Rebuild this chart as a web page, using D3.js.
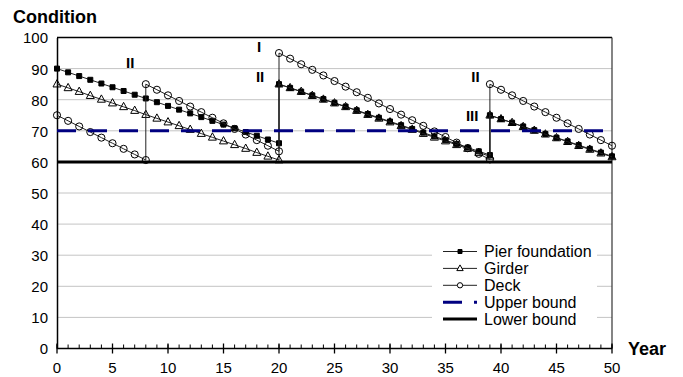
<!DOCTYPE html>
<html>
<head>
<meta charset="utf-8">
<script src="https://cdn.jsdelivr.net/npm/d3@7/dist/d3.min.js"></script>
<style>
  body { margin: 0; background: #fff; }
  text { font-family: "Liberation Sans", Arial, sans-serif; fill: #000; }
</style>
</head>
<body>
<svg id="chart" width="683" height="377"></svg>
<script>
// condition values per segment, a repair starts a new segment in the same year
var pierStarts = [0, 20, 39];
var pierValues = [
  [90, 88.8, 87.6, 86.4, 85.2, 84, 82.8, 81.6, 80.4, 79.2, 78, 76.8, 75.6, 74.4, 73.2, 72, 70.8, 69.6, 68.4, 67.2, 66],
  [85, 83.8, 82.6, 81.4, 80.2, 79, 77.8, 76.6, 75.4, 74.2, 73, 71.8, 70.6, 69.4, 68.2, 67, 65.8, 64.6, 63.4, 62.2],
  [75, 73.8, 72.6, 71.4, 70.2, 69, 67.8, 66.6, 65.4, 64.2, 63, 61.8]
];
var girderStarts = [0, 20, 39];
var girderValues = [
  [85, 83.8, 82.6, 81.3, 80.1, 78.9, 77.7, 76.5, 75.2, 74, 72.8, 71.6, 70.4, 69.1, 67.9, 66.7, 65.5, 64.3, 63, 61.8, 60.6],
  [85, 83.8, 82.6, 81.3, 80.1, 78.9, 77.7, 76.5, 75.2, 74, 72.8, 71.6, 70.4, 69.1, 67.9, 66.7, 65.5, 64.3, 63, 61.8],
  [75, 73.8, 72.6, 71.3, 70.1, 68.9, 67.7, 66.5, 65.2, 64, 62.8, 61.6]
];
var deckStarts = [0, 8, 20, 39];
var deckValues = [
  [75, 73.2, 71.4, 69.6, 67.8, 66, 64.2, 62.4, 60.6],
  [85, 83.2, 81.4, 79.6, 77.8, 76, 74.2, 72.4, 70.6, 68.8, 67, 65.2, 63.4],
  [95, 93.2, 91.4, 89.6, 87.8, 86, 84.2, 82.4, 80.6, 78.8, 77, 75.2, 73.4, 71.6, 69.8, 68, 66.2, 64.4, 62.6, 60.8],
  [85, 83.2, 81.4, 79.6, 77.8, 76, 74.2, 72.4, 70.6, 68.8, 67, 65.2]
];
var boundYears = [0, 50];
var upperValues = [70, 70];
var lowerValues = [60, 60];

var yTicks = [0, 10, 20, 30, 40, 50, 60, 70, 80, 90, 100];
var xTicks = [0, 5, 10, 15, 20, 25, 30, 35, 40, 45, 50];
var legendNames = ["Pier foundation", "Girder", "Deck", "Upper bound", "Lower bound"];

// intervention labels (year, condition)
var notes = [
  { label: "II", year: 6.6, value: 91.8 },
  { label: "I", year: 18.2, value: 97 },
  { label: "II", year: 18.3, value: 87.3 },
  { label: "II", year: 37.7, value: 87.3 },
  { label: "III", year: 37.4, value: 74.8 }
];

function toPoints(starts, values) {
  var pts = [];
  values.forEach(function(seg, s) {
    seg.forEach(function(v, i) { pts.push({ year: starts[s] + i, value: v }); });
  });
  return pts;
}

var svg = d3.select("#chart");
var x = d3.scaleLinear().domain([0, 50]).range([57, 612]);
var y = d3.scaleLinear().domain([0, 100]).range([348.5, 37.5]);

// gridlines
svg.append("g").selectAll("line")
  .data(yTicks.filter(function(d) { return d > 0 && d < 100; }))
  .enter().append("line")
  .attr("x1", x(0)).attr("x2", x(50))
  .attr("y1", function(d) { return y(d); }).attr("y2", function(d) { return y(d); })
  .attr("stroke", "#c4c4c4").attr("stroke-width", 1);

// plot frame top and right
svg.append("line").attr("x1", x(0)).attr("x2", x(50)).attr("y1", y(100)).attr("y2", y(100))
  .attr("stroke", "#000").attr("stroke-width", 1.5);
svg.append("line").attr("x1", x(50)).attr("x2", x(50)).attr("y1", y(100)).attr("y2", y(0))
  .attr("stroke", "#333").attr("stroke-width", 1.2);

// y axis
var yAxis = d3.axisLeft(y).tickValues(yTicks).tickSize(0).tickPadding(9);
var gy = svg.append("g").attr("transform", "translate(" + x(0) + ",0)").call(yAxis);
gy.select(".domain").attr("stroke", "#000").attr("stroke-width", 1.5);
gy.selectAll("text").style("font-size", "15px").attr("dy", "0.36em");

// x axis: minor ticks inward, major ticks across
var gx = svg.append("g").attr("transform", "translate(0," + y(0) + ")");
gx.selectAll("line.minor").data(d3.range(0, 51)).enter().append("line")
  .attr("x1", function(d) { return x(d); }).attr("x2", function(d) { return x(d); })
  .attr("y1", -4).attr("y2", 0).attr("stroke", "#000");
gx.selectAll("line.major").data(xTicks).enter().append("line")
  .attr("x1", function(d) { return x(d); }).attr("x2", function(d) { return x(d); })
  .attr("y1", -5).attr("y2", 5).attr("stroke", "#000").attr("stroke-width", 1.3);
gx.append("line").attr("x1", x(0)).attr("x2", x(50)).attr("y1", 0).attr("y2", 0)
  .attr("stroke", "#000").attr("stroke-width", 1.5);
gx.selectAll("text").data(xTicks).enter().append("text")
  .attr("x", function(d) { return x(d); }).attr("y", 24)
  .attr("text-anchor", "middle").style("font-size", "15px")
  .text(function(d) { return d; });

var line = d3.line().x(function(d) { return x(d.year); }).y(function(d) { return y(d.value); });

function drawSeries(pts, marker) {
  var g = svg.append("g");
  g.append("path").datum(pts).attr("d", line)
    .attr("fill", "none").attr("stroke", "#222").attr("stroke-width", 1);
  g.selectAll("path.m").data(pts).enter().append("path")
    .attr("transform", function(d) { return "translate(" + x(d.year) + "," + y(d.value) + ")"; })
    .attr("d", marker.d).attr("fill", marker.fill).attr("stroke", "#000").attr("stroke-width", 1);
}

var squareMark = { d: "M-2.5,-2.5h5v5h-5z", fill: "#000" };
var triMark = { d: "M0,-4.5L4,2.8L-4,2.8Z", fill: "none" };
var circMark = { d: d3.symbol().type(d3.symbolCircle).size(40)(), fill: "none" };

drawSeries(toPoints(pierStarts, pierValues), squareMark);
drawSeries(toPoints(girderStarts, girderValues), triMark);
drawSeries(toPoints(deckStarts, deckValues), circMark);

// bounds
var boundLine = d3.line().x(function(d, i) { return x(boundYears[i]); }).y(function(d) { return y(d); });
svg.append("path").datum(upperValues).attr("d", boundLine)
  .attr("fill", "none").attr("stroke", "#000080").attr("stroke-width", 3)
  .attr("stroke-dasharray", "19,12");
svg.append("path").datum(lowerValues).attr("d", boundLine)
  .attr("fill", "none").attr("stroke", "#000").attr("stroke-width", 3);

// intervention labels
svg.selectAll("text.note").data(notes).enter().append("text")
  .attr("x", function(d) { return x(d.year); }).attr("y", function(d) { return y(d.value); })
  .attr("dy", "0.36em").attr("text-anchor", "middle")
  .style("font-size", "15px").style("font-weight", "bold")
  .text(function(d) { return d.label; });

// legend
var lg = svg.append("g");
lg.append("rect").attr("x", 432).attr("y", 241).attr("width", 165).attr("height", 88).attr("fill", "#fff");
var rowY = function(i) { return 251.5 + i * 16.9; };
legendNames.forEach(function(name, i) {
  var yy = rowY(i);
  var ln = lg.append("line").attr("x1", 443).attr("x2", 477).attr("y1", yy).attr("y2", yy);
  if (i < 3) {
    ln.attr("stroke", "#222").attr("stroke-width", 1);
    var m = [
      { d: "M-2,-2h4v4h-4z", fill: "#000" },
      { d: "M0,-3.5L3.2,2.2L-3.2,2.2Z", fill: "#fff" },
      { d: d3.symbol().type(d3.symbolCircle).size(22)(), fill: "#fff" }
    ][i];
    lg.append("path").attr("transform", "translate(460," + yy + ")")
      .attr("d", m.d).attr("fill", m.fill).attr("stroke", "#000");
  } else if (i === 3) {
    ln.attr("stroke", "#000080").attr("stroke-width", 3).attr("stroke-dasharray", "19,12");
  } else {
    ln.attr("stroke", "#000").attr("stroke-width", 3);
  }
  lg.append("text").attr("x", 484).attr("y", yy).attr("dy", "0.36em")
    .style("font-size", "16px").text(name);
});

// axis titles
svg.append("text").attr("x", 13).attr("y", 23)
  .style("font-size", "18px").style("font-weight", "bold").text("Condition");
svg.append("text").attr("x", 628).attr("y", 355)
  .style("font-size", "18px").style("font-weight", "bold").text("Year");
</script>
</body>
</html>
